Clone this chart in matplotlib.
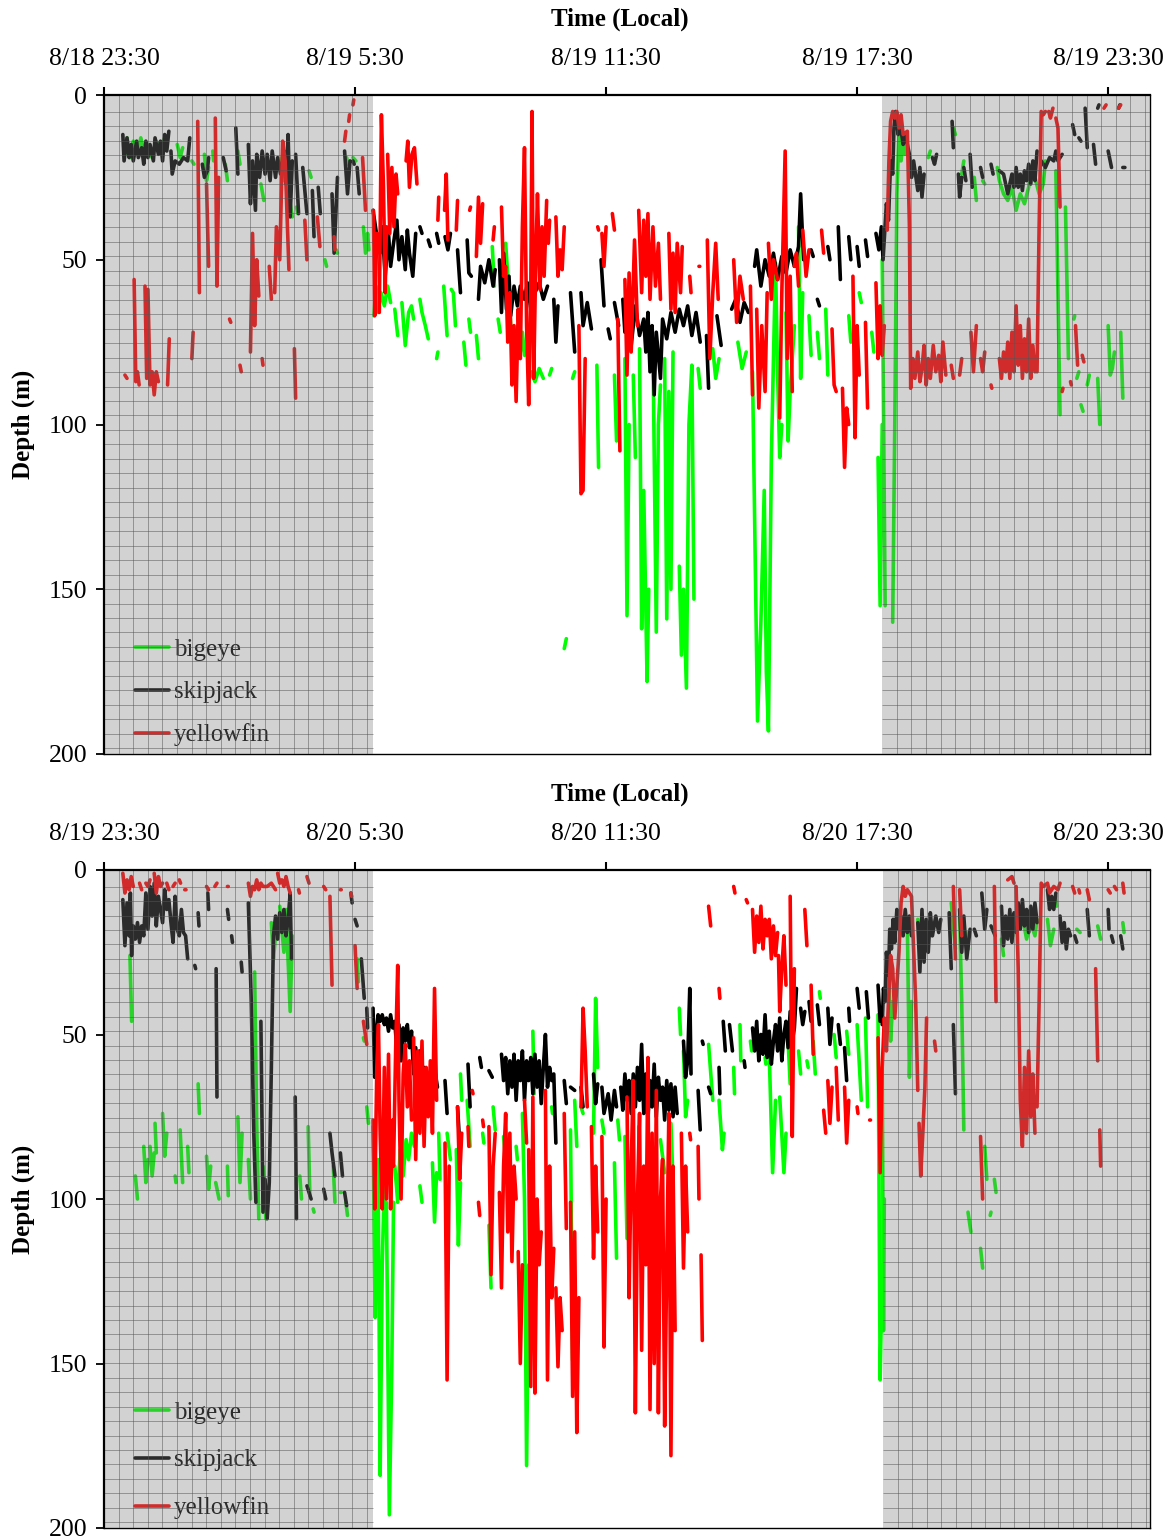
import numpy as np
import matplotlib
matplotlib.use('Agg')
import matplotlib.pyplot as plt

# ---------------- data ----------------
# time = hours after the panel start (23:30 local), depth in metres
tick_hours = [0, 6, 12, 18, 24]
tick_labels_day1 = ['8/18 23:30', '8/19 5:30', '8/19 11:30', '8/19 17:30', '8/19 23:30']
tick_labels_day2 = ['8/19 23:30', '8/20 5:30', '8/20 11:30', '8/20 17:30', '8/20 23:30']
depth_ticks = [0, 50, 100, 150, 200]
species = ['bigeye', 'skipjack', 'yellowfin']
species_colors = ['#00ff00', '#000000', '#ff0000']
night_day1 = [(0.0, 6.43), (18.6, 25.0)]
night_day2 = [(0.0, 6.43), (18.62, 25.0)]

skipjack_day1 = [
    [(0.45,12),(0.48,20),(0.55,13),(0.6,19),(0.65,15),(0.7,20),(0.78,14),(0.82,19),(0.9,16),(0.95,21),(1.0,14),(1.05,19),(1.1,15),(1.18,20),(1.22,13),(1.3,18),(1.35,14),(1.4,20),(1.45,12),(1.5,17),(1.55,11)],
    [(1.6,17),(1.63,24),(1.7,20),(1.8,21),(1.9,19),(2.0,20),(2.05,13)],
    [(2.35,21),(2.4,25),(2.47,23),(2.5,19)],
    [(2.85,19),(2.92,23)],
    [(3.15,10),(3.2,24)],
    [(3.45,15),(3.5,33),(3.55,20),(3.62,35),(3.65,18),(3.72,25),(3.78,17),(3.85,24),(3.9,18),(3.97,26),(4.02,17),(4.1,25),(4.15,19),(4.22,24),(4.3,17),(4.35,27),(4.4,12),(4.45,37),(4.5,20)],
    [(4.58,18),(4.65,36)],
    [(4.75,22),(4.85,36)],
    [(4.98,29),(5.02,43)],
    [(5.12,28),(5.17,36)],
    [(5.45,30),(5.5,48),(5.58,25)],
    [(5.75,17),(5.82,30),(5.88,20)],
    [(5.95,20),(5.98,21)],
    [(6.05,22),(6.1,30)],
    [(6.43,35),(6.5,41),(6.6,48),(6.65,40),(6.72,55),(6.8,42),(6.85,52),(6.92,45),(7.0,38),(7.05,50),(7.12,43),(7.2,53),(7.25,41),(7.3,48),(7.38,55),(7.45,42)],
    [(7.55,40),(7.6,42)],
    [(7.75,44),(7.8,46)],
    [(7.95,42),(8.0,45)],
    [(8.15,43),(8.22,47),(8.28,42)],
    [(8.45,47),(8.52,60)],
    [(8.68,44),(8.72,54),(8.78,55)],
    [(8.95,62),(9.0,52),(9.1,57),(9.2,50),(9.3,58),(9.35,53)],
    [(9.45,50),(9.5,66),(9.55,48),(9.62,65),(9.68,55),(9.72,67),(9.8,58),(9.88,64),(9.95,58),(10.05,62),(10.12,57),(10.2,65),(10.3,60),(10.4,57),(10.5,62),(10.6,58)],
    [(10.75,62),(10.8,75),(10.85,64)],
    [(11.15,60),(11.25,78)],
    [(11.4,60),(11.45,70),(11.55,63),(11.65,71)],
    [(11.88,50),(11.95,64)],
    [(12.05,71),(12.1,74)],
    [(12.2,63),(12.3,70)],
    [(12.4,62),(12.45,72),(12.55,66),(12.6,76),(12.7,64),(12.8,73),(12.9,68),(12.95,78),(13.0,66),(13.05,84),(13.1,70),(13.15,91),(13.2,72),(13.3,86),(13.35,68),(13.45,74),(13.55,66),(13.65,72),(13.75,65),(13.85,70),(13.95,64),(14.05,73),(14.15,66),(14.25,75)],
    [(14.4,73),(14.45,89)],
    [(14.65,67),(14.75,76)],
    [(15.0,65),(15.1,62),(15.2,69),(15.3,63),(15.4,66)],
    [(15.55,52),(15.6,47),(15.7,58),(15.8,50),(15.9,55),(16.0,48),(16.1,56),(16.2,49),(16.3,54),(16.4,47),(16.5,52),(16.6,46),(16.65,30),(16.72,50)],
    [(16.9,47),(16.95,49)],
    [(17.05,62),(17.1,64)],
    [(17.3,46),(17.35,50)],
    [(17.55,40),(17.6,56)],
    [(17.8,43),(17.85,50)],
    [(18.0,46),(18.05,52)],
    [(18.2,44),(18.25,49)],
    [(18.45,42),(18.52,47),(18.58,40),(18.62,50),(18.7,33),(18.75,38),(18.8,20),(18.85,24),(18.88,10),(18.92,5),(18.98,12),(19.02,8),(19.1,15),(19.15,12),(19.25,18),(19.3,25),(19.35,20),(19.45,29),(19.5,22),(19.55,31),(19.6,24)],
    [(19.8,19),(19.85,21),(19.9,18)],
    [(20.27,8),(20.3,16)],
    [(20.42,24),(20.45,31),(20.5,25)],
    [(20.55,22),(20.6,26)],
    [(20.7,18),(20.75,28)],
    [(20.95,22),(21.0,25)],
    [(21.2,21),(21.25,24)],
    [(21.4,23),(21.5,24),(21.55,27),(21.6,30),(21.7,24),(21.75,28),(21.8,22),(21.85,28),(21.9,24),(21.95,29),(22.0,23),(22.05,26),(22.1,21),(22.15,27),(22.2,20),(22.25,26),(22.3,17)],
    [(22.4,20),(22.5,22),(22.6,19),(22.7,20),(22.75,17),(22.8,20),(22.9,18)],
    [(23.15,9),(23.2,12)],
    [(23.3,13),(23.35,14)],
    [(23.45,4),(23.5,16)],
    [(23.65,15),(23.7,21)],
    [(23.75,4),(23.78,3)],
    [(24.0,17),(24.08,22)],
    [(24.25,4),(24.28,3)],
    [(24.35,22),(24.4,22)],
]

bigeye_day1 = [
    [(0.5,18),(0.55,13),(0.62,19),(0.7,14),(0.8,18),(0.88,13),(0.95,17),(1.05,15),(1.15,19),(1.25,14),(1.35,18),(1.45,13),(1.5,16)],
    [(1.75,15),(1.82,19),(1.88,16)],
    [(2.1,20),(2.15,21)],
    [(2.4,18),(2.45,26),(2.5,22)],
    [(2.6,17),(2.62,20)],
    [(2.9,21),(2.95,26)],
    [(3.2,17),(3.25,21)],
    [(3.75,27),(3.82,32)],
    [(4.25,19),(4.3,26)],
    [(4.45,33),(4.5,37)],
    [(4.6,34),(4.63,36)],
    [(4.9,23),(4.95,25)],
    [(5.28,50),(5.32,52)],
    [(5.55,47),(5.58,48)],
    [(5.8,19),(5.83,21)],
    [(5.95,19),(6.02,20)],
    [(6.2,40),(6.25,48),(6.3,42),(6.33,47)],
    [(6.45,67),(6.5,58),(6.55,66),(6.62,60),(6.7,64),(6.78,58),(6.85,63)],
    [(6.95,65),(7.02,73)],
    [(7.12,63),(7.2,76),(7.28,66),(7.35,64),(7.4,68)],
    [(7.55,62),(7.6,66),(7.68,70),(7.75,74)],
    [(7.95,80),(7.98,78)],
    [(8.12,58),(8.2,73)],
    [(8.3,59),(8.35,60),(8.4,70)],
    [(8.6,75),(8.65,82)],
    [(8.72,68),(8.76,72)],
    [(8.9,73),(8.95,80)],
    [(9.28,46),(9.33,58)],
    [(9.42,68),(9.47,72)],
    [(9.6,45),(9.65,55),(9.72,70),(9.78,80)],
    [(9.9,70),(9.95,78),(10.0,72),(10.05,79)],
    [(10.2,84),(10.3,87),(10.4,83),(10.5,86)],
    [(10.65,85),(10.7,83)],
    [(11.0,168),(11.05,165)],
    [(11.2,86),(11.25,84)],
    [(11.78,82),(11.82,113)],
    [(12.2,85),(12.25,105)],
    [(12.45,80),(12.5,158),(12.55,100)],
    [(12.65,85),(12.7,110)],
    [(12.8,77),(12.85,162),(12.9,120),(12.98,178),(13.02,150)],
    [(13.12,76),(13.2,163),(13.25,100),(13.3,88)],
    [(13.4,80),(13.45,159),(13.5,90),(13.55,150),(13.6,78)],
    [(13.75,143),(13.8,170),(13.85,150),(13.92,180),(13.98,100),(14.05,82),(14.1,153)],
    [(14.2,83),(14.25,89)],
    [(14.55,77),(14.62,86),(14.7,80)],
    [(15.15,75),(15.25,83),(15.35,78)],
    [(15.5,84),(15.62,190),(15.7,160),(15.78,120),(15.83,175),(15.88,193),(15.95,110),(16.05,51),(16.1,85),(16.15,110),(16.2,100)],
    [(16.3,66),(16.35,105),(16.4,90),(16.5,70)],
    [(16.6,40),(16.65,86),(16.7,60)],
    [(16.85,67),(16.9,79)],
    [(17.05,72),(17.1,80)],
    [(17.25,65),(17.3,85)],
    [(17.8,67),(17.85,75)],
    [(18.05,60),(18.1,63)],
    [(18.35,72),(18.4,78)],
    [(18.5,110),(18.55,155),(18.6,100)],
    [(18.6,50),(18.67,155)],
    [(18.85,160),(18.9,100),(18.95,30),(19.0,12),(19.05,20),(19.1,14),(19.15,18)],
    [(19.45,28),(19.5,26)],
    [(19.7,19),(19.75,17)],
    [(20.3,10),(20.35,12)],
    [(20.5,24),(20.55,20)],
    [(20.8,25),(20.85,32)],
    [(21.0,26),(21.05,27)],
    [(21.35,22),(21.4,26),(21.5,30),(21.6,32),(21.7,28),(21.8,35),(21.9,30),(22.0,33),(22.1,28),(22.15,22)],
    [(22.25,25),(22.35,30),(22.45,27),(22.5,20)],
    [(22.75,23),(22.85,97)],
    [(22.98,34),(23.05,80)],
    [(23.18,68),(23.2,67)],
    [(23.25,86),(23.3,84)],
    [(23.35,94),(23.4,96)],
    [(23.5,88),(23.55,85)],
    [(23.75,86),(23.8,100)],
    [(24.0,70),(24.05,85),(24.1,83),(24.15,78)],
    [(24.3,72),(24.35,92)],
]

yellowfin_day1 = [
    [(0.5,85),(0.55,86)],
    [(0.72,56),(0.76,87),(0.8,84),(0.84,88)],
    [(0.98,58),(1.02,86)],
    [(1.05,59),(1.1,88),(1.15,84),(1.2,91),(1.25,84),(1.3,87)],
    [(1.52,88),(1.56,74)],
    [(2.1,80),(2.13,72)],
    [(2.24,8),(2.28,60)],
    [(2.45,27),(2.5,52)],
    [(2.66,7),(2.7,58),(2.74,25)],
    [(3.0,68),(3.03,69)],
    [(3.25,82),(3.28,84)],
    [(3.5,78),(3.55,42),(3.6,70),(3.65,50),(3.7,61)],
    [(3.78,80),(3.8,82)],
    [(3.95,52),(4.0,62)],
    [(4.08,60),(4.12,40),(4.2,50),(4.27,14),(4.33,20),(4.42,53)],
    [(4.55,77),(4.58,92)],
    [(4.8,38),(4.85,50)],
    [(5.1,37),(5.16,46)],
    [(5.5,43),(5.52,47)],
    [(5.75,14),(5.78,11)],
    [(5.85,8),(5.87,6)],
    [(5.95,3),(5.97,1.5)],
    [(6.18,19),(6.25,35)],
    [(6.44,35),(6.47,67),(6.52,42)],
    [(6.58,66),(6.63,6),(6.68,28),(6.72,60),(6.75,40)],
    [(6.78,18),(6.83,42),(6.88,22),(6.93,40),(6.98,24),(7.02,30)],
    [(7.22,20),(7.26,14),(7.3,28),(7.36,18),(7.42,16),(7.48,27)],
    [(7.98,38),(8.0,31)],
    [(8.14,35),(8.18,24),(8.22,44)],
    [(8.42,41),(8.45,32)],
    [(8.74,35),(8.76,34)],
    [(8.9,49),(8.95,31),(9.0,45),(9.05,33)],
    [(9.3,44),(9.33,40)],
    [(9.5,34),(9.55,55),(9.6,52),(9.65,75),(9.7,60),(9.75,88),(9.8,70),(9.85,93),(9.9,65),(9.95,80),(10.0,40),(10.05,16),(10.1,70),(10.15,94),(10.2,60),(10.23,5),(10.27,86),(10.32,50),(10.36,30),(10.42,59),(10.47,40),(10.52,55),(10.58,32)],
    [(10.62,45),(10.65,38)],
    [(10.8,37),(10.85,55),(10.9,47),(10.95,53),(11.0,40)],
    [(11.35,70),(11.4,121),(11.45,120),(11.5,80)],
    [(11.8,40),(11.82,41)],
    [(11.9,42),(11.95,52),(12.0,40)],
    [(12.15,36),(12.2,41)],
    [(12.28,68),(12.33,108)],
    [(12.45,56),(12.5,85),(12.55,54),(12.6,78),(12.68,44),(12.75,70)],
    [(12.78,35),(12.85,60),(12.9,38),(12.95,55),(13.0,36),(13.05,62),(13.12,40),(13.18,58),(13.25,45),(13.3,62)],
    [(13.5,42),(13.55,65),(13.6,48),(13.65,66),(13.7,45),(13.78,60),(13.82,46)],
    [(14.0,55),(14.03,60)],
    [(14.22,52),(14.24,52)],
    [(14.42,44),(14.48,80),(14.55,60),(14.62,45),(14.68,62)],
    [(15.05,50),(15.12,69),(15.2,55),(15.28,62)],
    [(15.45,58),(15.5,91)],
    [(15.6,65),(15.65,95),(15.72,70),(15.8,90),(15.85,60)],
    [(15.88,45),(15.95,62),(16.0,50),(16.1,56)],
    [(16.15,98),(16.2,60),(16.28,17),(16.33,80),(16.4,55),(16.45,90)],
    [(16.5,52),(16.55,48),(16.6,58)],
    [(16.7,41),(16.78,55),(16.85,47)],
    [(17.15,41),(17.2,48)],
    [(17.4,71),(17.45,88),(17.5,90)],
    [(17.65,89),(17.7,113),(17.75,95),(17.8,100)],
    [(17.9,55),(17.95,104),(18.0,70),(18.05,85)],
    [(18.2,69),(18.25,95)],
    [(18.45,57),(18.5,80),(18.55,64),(18.6,79),(18.65,70)],
    [(18.72,41),(18.76,20),(18.8,8),(18.85,5),(18.9,7),(18.95,5),(19.0,10),(19.05,6),(19.1,12),(19.2,11),(19.25,40),(19.28,89),(19.33,80),(19.38,86),(19.45,78),(19.5,87),(19.55,83),(19.6,76),(19.65,88),(19.7,80),(19.75,86),(19.82,76),(19.88,84),(19.95,79),(20.0,87),(20.05,75),(20.12,85)],
    [(20.25,82),(20.3,86)],
    [(20.45,85),(20.5,80)],
    [(20.72,72),(20.78,84),(20.85,70)],
    [(20.95,80),(21.0,84),(21.05,78)],
    [(21.2,88),(21.22,89)],
    [(21.4,80),(21.45,86),(21.5,78),(21.55,84),(21.6,75),(21.65,86),(21.7,72),(21.75,84),(21.8,64),(21.85,82),(21.9,70),(21.95,86),(22.0,74),(22.05,84),(22.1,68),(22.15,86),(22.2,76),(22.25,84)],
    [(22.3,84),(22.35,40),(22.4,5),(22.45,6),(22.5,5)],
    [(22.58,5),(22.62,7),(22.68,4)],
    [(22.75,7),(22.8,10),(22.85,34)],
    [(22.9,90),(22.92,89)],
    [(23.1,87),(23.12,88)],
    [(23.22,70),(23.27,82)],
    [(23.38,79),(23.42,81)],
    [(23.9,4),(23.95,3)],
    [(24.25,4),(24.3,3)],
]

skipjack_day2 = [
    [(0.45,9),(0.5,23),(0.55,10),(0.6,20),(0.63,7),(0.66,26),(0.7,17),(0.75,21),(0.8,16),(0.85,22),(0.9,17),(0.95,20),(1.0,7),(1.05,18),(1.1,5),(1.15,14),(1.2,4),(1.25,17),(1.3,8),(1.35,12),(1.4,16),(1.45,6),(1.5,12)],
    [(1.55,9),(1.6,16),(1.65,22),(1.7,8),(1.75,18),(1.8,20),(1.85,12),(1.9,19),(1.95,20),(2.0,27)],
    [(2.17,29),(2.19,30)],
    [(2.25,13),(2.27,17)],
    [(2.48,7),(2.5,12)],
    [(2.68,30),(2.7,69)],
    [(2.95,12),(2.98,15)],
    [(3.05,20),(3.07,22)],
    [(3.28,28),(3.3,31)],
    [(3.45,10),(3.52,40),(3.58,80),(3.63,101)],
    [(3.75,46),(3.8,104)],
    [(3.85,94),(3.9,106),(3.95,95),(4.0,60),(4.05,20),(4.1,14),(4.15,21),(4.2,13),(4.25,19),(4.3,12),(4.35,20),(4.4,15),(4.45,7),(4.48,27)],
    [(4.57,69),(4.6,106)],
    [(4.85,96),(4.95,100)],
    [(5.25,97),(5.3,100)],
    [(5.4,80),(5.45,86),(5.52,93)],
    [(5.65,86),(5.7,93)],
    [(5.75,98),(5.8,102)],
    [(5.9,7),(5.93,10)],
    [(6.0,15),(6.05,17)],
    [(6.15,27),(6.22,39)],
    [(6.28,42),(6.3,48)],
    [(6.43,42),(6.47,63),(6.5,50),(6.55,44),(6.6,46),(6.65,44),(6.7,47),(6.75,45),(6.8,49),(6.85,44),(6.9,48),(6.95,46),(7.0,55),(7.05,47),(7.1,58),(7.15,48),(7.2,52),(7.25,47),(7.3,54),(7.35,49),(7.4,62)],
    [(7.45,54),(7.5,70),(7.55,55),(7.6,67),(7.65,60),(7.72,74),(7.78,63),(7.85,70),(7.92,62),(7.97,66)],
    [(8.15,64),(8.2,74)],
    [(8.45,72),(8.5,83)],
    [(8.7,59),(8.75,72)],
    [(8.98,57),(9.02,60)],
    [(9.2,61),(9.28,63)],
    [(9.5,56),(9.55,64),(9.6,57),(9.65,68),(9.7,58),(9.75,66),(9.8,56),(9.85,70),(9.9,58),(9.95,64),(10.0,55),(10.05,70),(10.1,58),(10.15,64),(10.2,57),(10.25,68),(10.3,56),(10.35,66),(10.4,58),(10.45,71),(10.5,60),(10.55,50),(10.6,66),(10.65,60),(10.7,64)],
    [(10.75,62),(10.8,83)],
    [(11.0,64),(11.05,71)],
    [(11.15,66),(11.25,67)],
    [(11.4,66),(11.45,72)],
    [(11.7,62),(11.75,71),(11.8,65)],
    [(11.9,66),(11.95,74),(12.05,68),(12.12,76),(12.2,67),(12.25,72)],
    [(12.35,66),(12.4,73),(12.45,62),(12.5,70),(12.55,64),(12.6,74),(12.65,62),(12.7,72),(12.75,60),(12.8,70),(12.85,53),(12.9,74),(12.95,62),(13.0,76),(13.05,64),(13.1,72),(13.15,59),(13.2,75),(13.25,63),(13.3,70),(13.35,66),(13.4,76),(13.45,64),(13.5,73),(13.55,65),(13.6,75),(13.65,66),(13.7,74)],
    [(13.85,52),(13.9,63),(13.95,58),(14.0,36),(14.03,62)],
    [(14.2,67),(14.25,79)],
    [(14.3,52),(14.32,53)],
    [(14.45,66),(14.5,68)],
    [(14.7,60),(14.72,68)],
    [(14.8,46),(14.85,55)],
    [(14.95,47),(15.02,55)],
    [(15.3,58),(15.32,60)],
    [(15.5,48),(15.55,55),(15.6,46),(15.65,58),(15.7,50),(15.75,56),(15.8,44),(15.85,57),(15.9,49),(15.95,59),(16.0,52),(16.05,47),(16.1,55),(16.15,45),(16.2,58),(16.25,50),(16.3,46),(16.35,54),(16.4,43),(16.45,52),(16.5,48),(16.55,36)],
    [(16.65,42),(16.7,47),(16.75,43)],
    [(16.85,40),(16.9,46)],
    [(17.05,41),(17.1,47)],
    [(17.3,42),(17.35,53),(17.4,45)],
    [(17.55,47),(17.6,53)],
    [(17.7,54),(17.75,64)],
    [(17.8,42),(17.82,46)],
    [(18.0,36),(18.05,42)],
    [(18.22,37),(18.27,45)],
    [(18.5,35),(18.55,46)],
    [(18.6,47),(18.63,36),(18.67,40),(18.7,25),(18.75,32),(18.78,18),(18.82,24),(18.86,15),(18.9,22),(18.95,12),(19.0,18),(19.05,14),(19.1,20),(19.15,12),(19.2,19),(19.25,14),(19.3,20)],
    [(19.45,16),(19.5,31),(19.55,12),(19.6,28),(19.65,15),(19.7,25),(19.75,13),(19.8,20),(19.88,14),(19.95,19),(20.0,15)],
    [(20.2,13),(20.25,30)],
    [(20.3,47),(20.35,68)],
    [(20.45,12),(20.5,25),(20.55,14),(20.62,27),(20.7,18)],
    [(20.8,18),(20.85,20)],
    [(20.98,7),(21.05,18),(21.1,12)],
    [(21.2,17),(21.3,20)],
    [(21.45,11),(21.5,23),(21.55,14),(21.6,21),(21.65,12),(21.7,22),(21.75,13),(21.8,19),(21.85,10),(21.9,18),(21.95,9),(22.0,17),(22.05,12),(22.1,19),(22.15,11),(22.2,18),(22.25,10),(22.3,16)],
    [(22.55,6),(22.6,12),(22.65,8),(22.7,12),(22.75,7)],
    [(22.85,14),(22.9,22),(22.95,16),(23.0,24),(23.05,18),(23.1,20)],
    [(23.2,20),(23.25,22)],
    [(23.5,12),(23.55,20)],
    [(24.0,12),(24.02,18)],
    [(24.08,20),(24.12,22)],
    [(24.3,20),(24.35,24)],
]

bigeye_day2 = [
    [(0.62,26),(0.66,46)],
    [(0.75,93),(0.8,100)],
    [(0.95,84),(1.0,95),(1.05,88)],
    [(1.1,84),(1.15,93),(1.2,86)],
    [(1.22,77),(1.25,86)],
    [(1.4,74),(1.45,87),(1.5,80)],
    [(1.7,93),(1.72,95)],
    [(1.82,79),(1.88,95)],
    [(2.0,84),(2.03,92)],
    [(2.25,65),(2.28,74)],
    [(2.45,87),(2.5,97),(2.55,90)],
    [(2.67,95),(2.75,100)],
    [(2.95,90),(2.97,99)],
    [(3.2,75),(3.25,95),(3.3,80)],
    [(3.45,88),(3.5,100)],
    [(3.6,31),(3.65,77),(3.7,106)],
    [(3.8,90),(3.87,106)],
    [(4.0,16),(4.05,27),(4.1,20)],
    [(4.2,11),(4.3,25),(4.35,12),(4.45,43),(4.5,20)],
    [(4.68,93),(4.72,100)],
    [(4.88,78),(4.92,99)],
    [(5.0,103),(5.02,104)],
    [(5.48,90),(5.52,101)],
    [(5.65,98),(5.67,98)],
    [(5.78,101),(5.82,105)],
    [(6.05,27),(6.08,34)],
    [(6.2,51),(6.22,52)],
    [(6.28,72),(6.32,77)],
    [(6.43,78),(6.48,136),(6.52,100)],
    [(6.55,88),(6.6,184),(6.65,120),(6.7,95)],
    [(6.75,101),(6.82,196),(6.88,150),(6.92,101)],
    [(6.95,90),(7.02,101),(7.08,85),(7.15,93),(7.22,82),(7.28,88),(7.35,80),(7.42,84)],
    [(7.55,96),(7.6,101)],
    [(7.85,89),(7.9,107),(7.95,92)],
    [(8.0,80),(8.03,94)],
    [(8.2,80),(8.28,88)],
    [(8.42,85),(8.47,114),(8.52,95)],
    [(8.52,62),(8.55,70)],
    [(8.68,70),(8.75,84)],
    [(9.05,80),(9.08,83)],
    [(9.2,108),(9.25,127)],
    [(9.3,72),(9.35,79)],
    [(9.55,81),(9.6,88)],
    [(9.85,84),(9.88,88)],
    [(10.0,74),(10.05,100),(10.1,181),(10.15,120)],
    [(10.25,49),(10.28,68)],
    [(10.7,72),(10.72,74)],
    [(11.15,79),(11.2,149)],
    [(11.25,70),(11.3,84)],
    [(11.4,72),(11.45,74)],
    [(11.7,80),(11.75,39),(11.8,60)],
    [(11.9,76),(11.95,80)],
    [(12.2,89),(12.25,118)],
    [(12.28,76),(12.32,82)],
    [(12.45,81),(12.5,112)],
    [(12.78,78),(12.8,98)],
    [(13.05,87),(13.1,100)],
    [(13.3,82),(13.4,92)],
    [(13.55,77),(13.6,95)],
    [(13.75,42),(13.78,50)],
    [(13.85,55),(13.9,75),(13.95,70)],
    [(14.45,53),(14.55,70)],
    [(14.7,70),(14.78,85),(14.82,80)],
    [(15.05,60),(15.07,68)],
    [(15.2,47),(15.22,58)],
    [(15.45,52),(15.48,55)],
    [(15.8,57),(15.82,59)],
    [(15.9,56),(15.98,92),(16.05,70)],
    [(16.15,69),(16.25,92),(16.3,80)],
    [(16.35,52),(16.4,65)],
    [(16.6,55),(16.65,62)],
    [(16.8,58),(16.83,60)],
    [(16.95,52),(17.0,62)],
    [(17.1,37),(17.12,39)],
    [(17.45,50),(17.5,57)],
    [(17.75,49),(17.8,56)],
    [(18.0,47),(18.1,70)],
    [(18.2,45),(18.25,72)],
    [(18.5,44),(18.55,155),(18.6,120)],
    [(18.6,60),(18.63,140),(18.65,100)],
    [(18.75,27),(18.8,52),(18.85,40)],
    [(19.0,17),(19.05,20)],
    [(19.2,16),(19.25,63),(19.3,40)],
    [(19.45,15),(19.5,19)],
    [(19.7,16),(19.78,20)],
    [(20.25,10),(20.35,24)],
    [(20.45,14),(20.5,40),(20.55,79)],
    [(20.62,19),(20.66,24)],
    [(20.65,104),(20.72,110)],
    [(20.95,115),(21.0,121)],
    [(21.05,84),(21.1,94)],
    [(21.18,105),(21.2,104)],
    [(21.28,94),(21.32,98)],
    [(21.45,21),(21.5,26)],
    [(21.65,15),(21.72,20)],
    [(21.95,14),(22.05,21),(22.15,16),(22.25,20),(22.3,15)],
    [(22.55,15),(22.62,23),(22.7,18)],
    [(22.75,8),(22.77,11)],
    [(23.25,18),(23.33,19)],
    [(23.75,17),(23.82,21)],
    [(24.35,16),(24.38,19)],
]

yellowfin_day2 = [
    [(0.45,1),(0.5,7),(0.55,3),(0.6,6),(0.65,2),(0.7,5)],
    [(0.85,4),(0.9,6)],
    [(1.0,4),(1.05,5),(1.1,3)],
    [(1.2,1),(1.25,7),(1.3,2),(1.35,5),(1.4,4)],
    [(1.5,4),(1.55,6)],
    [(1.65,5),(1.7,4)],
    [(1.8,3),(1.83,4)],
    [(1.93,6),(1.96,6)],
    [(2.45,5),(2.5,6)],
    [(2.65,5),(2.7,4)],
    [(2.95,5),(2.97,5)],
    [(3.45,4),(3.5,8),(3.55,5),(3.6,6),(3.65,3),(3.7,6),(3.75,4),(3.8,5),(3.9,5),(4.0,4),(4.1,6)],
    [(4.15,1),(4.2,4),(4.25,3),(4.3,5),(4.35,2),(4.4,5),(4.45,7)],
    [(4.65,6),(4.67,7)],
    [(4.85,2),(4.9,4)],
    [(5.25,5),(5.3,6)],
    [(5.4,8),(5.45,35)],
    [(5.65,6),(5.67,6)],
    [(5.9,7),(5.92,8)],
    [(6.0,23),(6.05,36)],
    [(6.2,46),(6.28,53)],
    [(6.43,76),(6.47,103),(6.52,60),(6.56,47),(6.6,80),(6.65,103),(6.7,60),(6.75,100),(6.8,56),(6.85,103),(6.9,76)],
    [(6.92,90),(6.97,55),(7.02,29),(7.05,70),(7.1,100),(7.15,62),(7.2,53),(7.25,72),(7.3,58),(7.35,76)],
    [(7.4,51),(7.45,88),(7.5,55),(7.55,80),(7.6,52),(7.65,84),(7.7,60),(7.75,75),(7.8,58),(7.85,80),(7.9,36),(7.95,70)],
    [(8.15,83),(8.2,155),(8.25,90)],
    [(8.45,72),(8.5,94),(8.55,80)],
    [(8.7,78),(8.72,84)],
    [(8.8,67),(8.82,68)],
    [(8.95,101),(8.98,105)],
    [(9.05,76),(9.07,78)],
    [(9.2,78),(9.25,123),(9.3,90),(9.35,80)],
    [(9.45,98),(9.5,127),(9.55,90),(9.6,74),(9.65,110),(9.7,80),(9.75,119),(9.8,90),(9.85,100)],
    [(9.9,116),(9.95,150),(10.0,120)],
    [(10.05,70),(10.1,83)],
    [(10.15,85),(10.2,157),(10.25,69),(10.3,159),(10.35,100),(10.4,120),(10.45,110)],
    [(10.55,67),(10.6,155),(10.65,90),(10.7,130),(10.75,115)],
    [(10.8,127),(10.85,151),(10.9,130),(10.95,140)],
    [(11.0,74),(11.05,109)],
    [(11.15,101),(11.2,160),(11.25,110),(11.3,171),(11.35,130)],
    [(11.4,72),(11.45,42),(11.5,55),(11.55,72)],
    [(11.65,78),(11.7,118),(11.75,90),(11.8,110)],
    [(11.9,81),(11.95,145),(12.0,100)],
    [(12.5,69),(12.55,130),(12.6,90),(12.65,64),(12.7,165),(12.75,100),(12.8,74),(12.85,146),(12.9,90),(12.95,120),(13.0,57),(13.05,164),(13.1,80),(13.15,150),(13.2,67),(13.25,165),(13.3,100),(13.35,88),(13.4,169),(13.45,120),(13.5,74),(13.55,178),(13.6,90),(13.65,140)],
    [(13.8,80),(13.85,121),(13.9,90),(13.95,110)],
    [(14.0,80),(14.02,82)],
    [(14.2,84),(14.22,100)],
    [(14.27,117),(14.3,143)],
    [(14.45,11),(14.5,17)],
    [(14.7,36),(14.72,39)],
    [(15.05,5),(15.08,7)],
    [(15.35,9),(15.38,10)],
    [(15.5,12),(15.55,25),(15.6,14),(15.65,22),(15.7,11),(15.75,24),(15.8,15),(15.85,20),(15.9,15),(15.95,27),(16.0,17),(16.05,26),(16.1,19)],
    [(16.12,26),(16.15,43),(16.2,30),(16.25,20),(16.3,35)],
    [(16.4,8),(16.45,81),(16.5,30)],
    [(16.75,12),(16.8,23)],
    [(16.9,35),(16.95,56)],
    [(17.2,73),(17.25,80)],
    [(17.3,64),(17.35,77),(17.4,66)],
    [(17.5,60),(17.55,76)],
    [(17.7,66),(17.75,83),(17.8,70)],
    [(18.0,72),(18.02,74)],
    [(18.3,76),(18.32,76)],
    [(18.5,51),(18.55,92),(18.6,60),(18.65,45),(18.7,55),(18.75,40),(18.8,26),(18.85,30),(18.9,45),(18.95,35),(19.0,25),(19.05,10),(19.1,5),(19.15,8),(19.2,6),(19.3,8),(19.4,40),(19.45,67)],
    [(19.48,77),(19.52,93),(19.57,80),(19.62,66),(19.66,45)],
    [(19.85,52),(19.88,55)],
    [(20.3,5),(20.35,27)],
    [(20.45,6),(20.5,20)],
    [(20.95,81),(21.0,100)],
    [(21.28,5),(21.32,40)],
    [(21.6,3),(21.7,2),(21.75,4)],
    [(21.8,5),(21.85,30),(21.9,70),(21.95,84),(22.0,60),(22.05,80),(22.1,55),(22.15,75),(22.2,62),(22.25,80)],
    [(22.3,72),(22.35,40),(22.4,4),(22.45,5),(22.55,4),(22.6,7),(22.7,5),(22.8,6),(22.85,4)],
    [(23.15,5),(23.2,7)],
    [(23.3,6),(23.32,7)],
    [(23.5,6),(23.55,9)],
    [(23.7,30),(23.75,58)],
    [(23.8,79),(23.82,90)],
    [(24.0,6),(24.05,7)],
    [(24.15,5),(24.2,6)],
    [(24.35,4),(24.38,7)],
]


# ---------------- helpers ----------------
def flatten(segments):
    t, d = [], []
    for seg in segments:
        for a, b in seg:
            t.append(a)
            d.append(b)
        t.append(np.nan)
        d.append(np.nan)
    return np.array(t), np.array(d)


plt.rcParams['font.family'] = ['Liberation Serif', 'DejaVu Serif']

W, H = 1172, 1538
fig = plt.figure(figsize=(W / 100, H / 100), dpi=100)

panels = [
    dict(rect=[104 / W, (H - 754) / H, 1046 / W, 659 / H],
         data=[bigeye_day1, skipjack_day1, yellowfin_day1],
         labels=tick_labels_day1, nights=night_day1,
         leg_anchor=(0.030, 0.0115), leg_space=0.80),
    dict(rect=[104 / W, (H - 1528) / H, 1046 / W, 658 / H],
         data=[bigeye_day2, skipjack_day2, yellowfin_day2],
         labels=tick_labels_day2, nights=night_day2,
         leg_anchor=(0.030, 0.013), leg_space=1.0),
]

for p in panels:
    ax = fig.add_axes(p['rect'])
    handles = []
    for name, col, segs in zip(species, species_colors, p['data']):
        t, d = flatten(segs)
        ln, = ax.plot(t, d, color=col, lw=2.6, solid_capstyle='round',
                      solid_joinstyle='round', label=name, zorder=2)
        handles.append(ln)

    ax.set_xlim(0, 25)
    ax.set_ylim(200, 0)

    # night shading (semi-transparent overlay) with a fine grid
    for a, b in p['nights']:
        ax.axvspan(a, b, facecolor='#7d7d7d', alpha=0.345, lw=0, zorder=5)
        xs = np.arange(a + 0.349, b, 0.349)
        ax.vlines(xs, 0, 200, colors='#555555', alpha=0.5, lw=0.72, zorder=6)
        ys = np.arange(5.07, 200, 4.39)
        ax.hlines(ys, a, b, colors='#555555', alpha=0.5, lw=0.72, zorder=6)

    leg = ax.legend(handles=handles, loc='lower left', bbox_to_anchor=p['leg_anchor'],
                    frameon=False, fontsize=18, handlelength=1.35, handletextpad=0.2,
                    labelspacing=p['leg_space'], borderpad=0, borderaxespad=0)
    leg.set_zorder(3)

    ax.xaxis.tick_top()
    ax.xaxis.set_label_position('top')
    ax.set_xticks(tick_hours)
    ax.set_xticklabels(p['labels'])
    ax.set_yticks(depth_ticks)
    ax.tick_params(axis='x', which='both', top=True, bottom=False, direction='out',
                   length=6, width=1.5, pad=12, labelsize=18.5)
    ax.tick_params(axis='y', direction='out', length=6, width=1.3, pad=6, labelsize=18.5)
    ax.set_xlabel('Time (Local)', fontsize=18, fontweight='bold', labelpad=16)
    ax.xaxis.label.set_x(0.4935)
    ax.set_ylabel('Depth (m)', fontsize=18, fontweight='bold', labelpad=10)

    for side in ['left', 'top']:
        ax.spines[side].set_linewidth(1.6)
        ax.spines[side].set_zorder(10)
    for side in ['right', 'bottom']:
        ax.spines[side].set_linewidth(1.0)
        ax.spines[side].set_zorder(2.5)

fig.savefig('out.png', dpi=100)
